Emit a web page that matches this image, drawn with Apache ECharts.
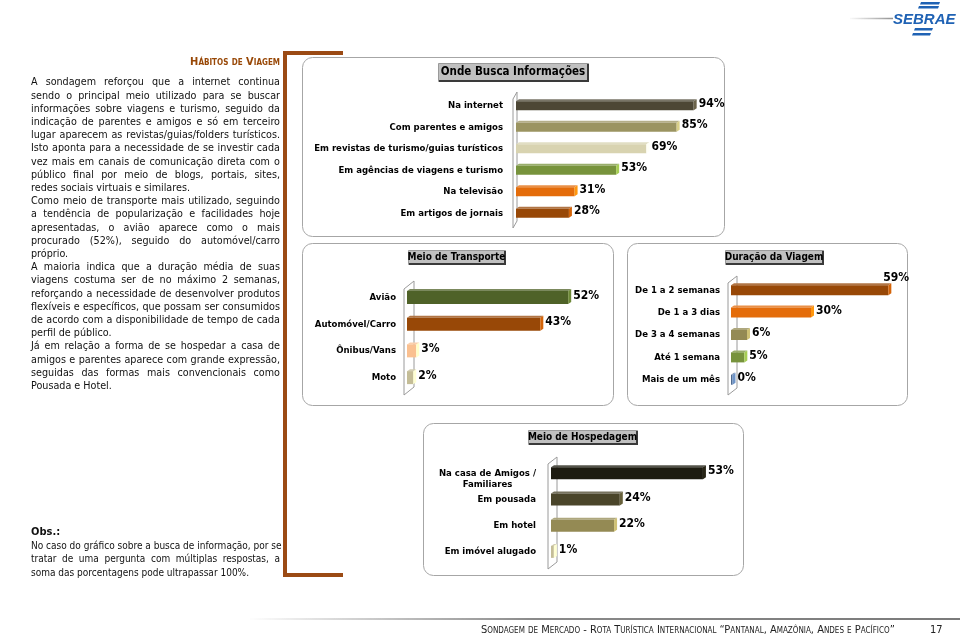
<!DOCTYPE html>
<html>
<head>
<meta charset="utf-8">
<title>Hábitos de Viagem</title>
<script src="https://cdn.jsdelivr.net/npm/echarts@6/dist/echarts.min.js"></script>
<style>
  body { margin: 0; background: #fff; }
  #page { position: relative; width: 960px; height: 639px; overflow: hidden;
          font-family: "DejaVu Sans Condensed", "DejaVu Sans", sans-serif; }
  #chart { position: absolute; left: 0; top: 0; width: 960px; height: 639px; }
  .txt { position: absolute; left: 31px; width: 249px; font-size: 10.7px; line-height: 13.2px; color: #111; }
  .txt div { white-space: nowrap; text-align: justify; text-align-last: justify; }
  .txt div.end { text-align-last: left; }
  #heading { position: absolute; left: 150px; width: 130px; top: 55px; text-align: right;
             font-size: 11px; font-weight: bold; font-variant: small-caps; color: #984807; }
  #footer { position: absolute; left: 481px; top: 623px; font-size: 11px; line-height: 14px;
            font-variant: small-caps; color: #222; white-space: nowrap; }
  #pageno { position: absolute; left: 930px; top: 623px; font-size: 11px; line-height: 14px; color: #222; }
</style>
</head>
<body>
<div id="page">
  <div id="chart"></div>
  <div id="heading">Hábitos de Viagem</div>
  <div class="txt" style="top:75.4px">
    <div>A sondagem reforçou que a internet continua</div>
    <div>sendo o principal meio utilizado para se buscar</div>
    <div>informações sobre viagens e turismo, seguido da</div>
    <div>indicação de parentes e amigos e só em terceiro</div>
    <div>lugar aparecem as revistas/guias/folders turísticos.</div>
    <div>Isto aponta para a necessidade de se investir cada</div>
    <div>vez mais em canais de comunicação direta com o</div>
    <div>público final por meio de blogs, portais, sites,</div>
    <div class="end">redes sociais virtuais e similares.</div>
    <div>Como meio de transporte mais utilizado, seguindo</div>
    <div>a tendência de popularização e facilidades hoje</div>
    <div>apresentadas, o avião aparece como o mais</div>
    <div>procurado (52%), seguido do automóvel/carro</div>
    <div class="end">próprio.</div>
    <div>A maioria indica que a duração média de suas</div>
    <div>viagens costuma ser de no máximo 2 semanas,</div>
    <div>reforçando a necessidade de desenvolver produtos</div>
    <div>flexíveis e específicos, que possam ser consumidos</div>
    <div>de acordo com a disponibilidade de tempo de cada</div>
    <div class="end">perfil de público.</div>
    <div>Já em relação a forma de se hospedar a casa de</div>
    <div>amigos e parentes aparece com grande expressão,</div>
    <div>seguidas das formas mais convencionais como</div>
    <div class="end">Pousada e Hotel.</div>
  </div>
  <div class="txt" style="top:525px;line-height:13.6px;font-size:10px">
    <div class="end" style="font-weight:bold;font-size:11px">Obs.:</div>
    <div>No caso do gráfico sobre a busca de informação, por se</div>
    <div>tratar de uma pergunta com múltiplas respostas, a</div>
    <div class="end">soma das porcentagens pode ultrapassar 100%.</div>
  </div>
  <div id="footer">Sondagem de Mercado - Rota Turística Internacional “Pantanal, Amazônia, Andes e Pacífico”</div>
  <div id="pageno">17</div>
</div>
<script>
// values
const infoCategories = ['Na internet', 'Com parentes e amigos', 'Em revistas de turismo/guias turísticos',
  'Em agências de viagens e turismo', 'Na televisão', 'Em artigos de jornais'];
const infoValues = [94, 85, 69, 53, 31, 28];

const transportCategories = ['Avião', 'Automóvel/Carro', 'Ônibus/Vans', 'Moto'];
const transportValues = [52, 43, 3, 2];

const durationCategories = ['De 1 a 2 semanas', 'De 1 a 3 dias', 'De 3 a 4 semanas', 'Até 1 semana', 'Mais de um mês'];
const durationValues = [59, 30, 6, 5, 0];

const lodgingCategories = ['Na casa de Amigos /\nFamiliares', 'Em pousada', 'Em hotel', 'Em imóvel alugado'];
const lodgingValues = [53, 24, 22, 1];

const infoColors = ['#4d4735', '#9b9461', '#d8d3b0', '#77933c', '#e46c0a', '#984807'];
const transportColors = ['#4f6228', '#984807', '#fac090', '#c4bd97'];
const durationColors = ['#984807', '#e46c0a', '#948a54', '#77933c', '#4f6a8f'];
const lodgingColors = ['#1d1b10', '#4a452a', '#948a54', '#c4bd97'];

const FONT = '"DejaVu Sans Condensed", "DejaVu Sans", sans-serif';
const CAT_SIZE = 9.5;

const panels = [
  { title: 'Onde Busca Informações', cats: infoCategories, vals: infoValues, colors: infoColors, max: 100,
    grid: { left: 516, top: 95, width: 189, height: 129 }, barH: 9, margin: 13,
    box: [302, 57, 422, 179], titleBox: [438, 63, 150, 18], titleSize: 11.5, wall: { dx: 4, dy: 7 } },
  { title: 'Meio de Transporte', cats: transportCategories, vals: transportValues, colors: transportColors, max: 60,
    grid: { left: 407, top: 284, width: 186, height: 107 }, barH: 13, margin: 11,
    box: [302, 243, 311, 162], titleBox: [408, 250, 97, 14], titleSize: 10, wall: { dx: 10, dy: 8 } },
  { title: 'Duração da Viagem', cats: durationCategories, vals: durationValues, colors: durationColors, max: 60,
    grid: { left: 731, top: 279, width: 160, height: 112 }, barH: 10, margin: 11, labelMaxX: 907,
    box: [627, 243, 280, 162], titleBox: [725, 250, 98, 14], titleSize: 10, wall: { dx: 9, dy: 7 } },
  { title: 'Meio de Hospedagem', cats: lodgingCategories, vals: lodgingValues, colors: lodgingColors, max: 60,
    grid: { left: 551, top: 460, width: 172, height: 105 }, barH: 12, margin: 15,
    box: [423, 423, 320, 152], titleBox: [528, 430, 109, 14], titleSize: 10, wall: { dx: 9, dy: 7 } }
];

const measure = document.createElement('canvas').getContext('2d');
function textWidth(str, font) {
  measure.font = font;
  return measure.measureText(str).width;
}

function bar3d(p) {
  return function (params, api) {
    const v = api.value(0);
    const start = api.coord([0, api.value(1)]);
    const end = api.coord([v, api.value(1)]);
    const h = p.barH, d = 3, dy = 2;
    const x0 = start[0], yc = start[1];
    const x1 = Math.max(end[0], x0 + 1.5);
    const top = yc - h / 2, bot = yc + h / 2;
    const c = p.colors[params.dataIndex];
    const label = v + '%';
    const lw = textWidth(label, 'bold 12px ' + FONT);
    let lx = x1 + d + 2, ly = yc - 2;
    if (p.labelMaxX && lx + lw > p.labelMaxX) {
      lx = x1 - 5;
      ly = top - 7;
    }
    return {
      type: 'group',
      children: [
        { type: 'polygon', shape: { points: [[x0, top], [x0 + d, top - dy], [x1 + d, top - dy], [x1, top]] },
          style: { fill: echarts.color.lift(c, 0.25) } },
        { type: 'rect', shape: { x: x0, y: top, width: x1 - x0, height: h }, style: { fill: c } },
        { type: 'polygon', shape: { points: [[x1, top], [x1 + d, top - dy], [x1 + d, bot - dy], [x1, bot]] },
          style: { fill: echarts.color.lift(c, -0.4) } },
        { type: 'text', style: { text: label, x: lx, y: ly, fontSize: 12, fontWeight: 'bold', fontFamily: FONT,
          fill: '#000', align: 'left', verticalAlign: 'middle' } }
      ]
    };
  };
}

const labelFont = 'bold ' + CAT_SIZE + 'px ' + FONT;

function catFormatter(value) {
  if (value.indexOf('\n') < 0) return value;
  const lines = value.split('\n');
  return '{s| }\n' + lines.map(l => '{c|' + l + '}').join('\n');
}

const graphics = [];

// brown bracket
graphics.push({ type: 'polyline', shape: { points: [[343, 53], [285, 53], [285, 575], [343, 575]] },
  style: { stroke: '#9b4a14', lineWidth: 4, fill: null } });

panels.forEach(p => {
  const [bx, by, bw, bh] = p.box;
  graphics.push({ type: 'rect', shape: { x: bx + 0.5, y: by + 0.5, width: bw, height: bh, r: 10 },
    style: { fill: null, stroke: '#a6a6a6', lineWidth: 1 } });
  const [tx, ty, tw, th] = p.titleBox;
  graphics.push({ type: 'rect', shape: { x: tx + 0.5, y: ty + 0.5, width: tw, height: th },
    style: { fill: '#c0c0c0', stroke: '#9a9a9a', lineWidth: 1 } });
  graphics.push({ type: 'polyline', shape: { points: [[tx + tw, ty + 1], [tx + tw, ty + th], [tx + 1, ty + th]] },
    style: { stroke: '#3a3a3a', lineWidth: 2, fill: null } });
  graphics.push({ type: 'text', style: { text: p.title, x: tx + tw / 2, y: ty + th / 2 + 0.5,
    align: 'center', verticalAlign: 'middle', fontFamily: FONT, fontWeight: 'bold', fontSize: p.titleSize, fill: '#000' } });
  // 3D back wall beside the category axis
  const g = p.grid, w = p.wall;
  const L = g.left - 3, yT = g.top - 3, yB = g.top + g.height + 4;
  graphics.push({ type: 'polygon', z: -1, shape: { points: [[L, yT + w.dy], [L + w.dx, yT], [L + w.dx, yB - w.dy], [L, yB]] },
    style: { fill: '#fff', stroke: '#9a9a9a', lineWidth: 1 } });
});

// footer rule and header rule
graphics.push({ type: 'line', shape: { x1: 250, y1: 619, x2: 960, y2: 619 },
  style: { lineWidth: 2, stroke: new echarts.graphic.LinearGradient(0, 0, 1, 0,
    [{ offset: 0, color: 'rgba(128,128,128,0)' }, { offset: 0.4, color: '#8a8a8a' }, { offset: 1, color: '#7a7a7a' }]) } });
graphics.push({ type: 'line', shape: { x1: 850, y1: 18.5, x2: 893, y2: 18.5 },
  style: { lineWidth: 1.5, stroke: new echarts.graphic.LinearGradient(0, 0, 1, 0,
    [{ offset: 0, color: 'rgba(140,140,140,0)' }, { offset: 1, color: '#8c8c8c' }]) } });

// SEBRAE mark
[[920, 2, 19], [918, 6, 20], [914, 28, 18], [912, 33, 18]].forEach(s => {
  graphics.push({ type: 'polygon', shape: { points: [[s[0] + 1, s[1]], [s[0] + s[2] + 1, s[1]], [s[0] + s[2], s[1] + 2.5], [s[0], s[1] + 2.5]] },
    style: { fill: '#1f62b4' } });
});
graphics.push({ type: 'text', style: { text: 'SEBRAE', x: 893, y: 19.5, verticalAlign: 'middle', align: 'left',
  fontFamily: '"Liberation Sans", Arial, sans-serif', fontStyle: 'italic', fontWeight: 'bold', fontSize: 15, fill: '#1f62b4' } });

const twoLineW = textWidth('Na casa de Amigos /', labelFont);

const chart = echarts.init(document.getElementById('chart'));
chart.setOption({
  animation: false,
  grid: panels.map(p => Object.assign({ outerBoundsMode: 'none' }, p.grid)),
  xAxis: panels.map((p, i) => ({ type: 'value', gridIndex: i, min: 0, max: p.max, show: false })),
  yAxis: panels.map((p, i) => ({
    type: 'category', gridIndex: i, inverse: true, data: p.cats,
    axisLine: { show: false }, axisTick: { show: false }, splitLine: { show: false },
    axisLabel: {
      margin: p.margin, fontFamily: FONT, fontWeight: 'bold', fontSize: CAT_SIZE, color: '#000',
      formatter: catFormatter,
      rich: {
        s: { lineHeight: 11, fontSize: CAT_SIZE },
        c: { width: twoLineW, align: 'center', lineHeight: 11, fontFamily: FONT, fontWeight: 'bold', fontSize: CAT_SIZE, color: '#000' }
      }
    }
  })),
  series: panels.map((p, i) => ({
    type: 'custom', xAxisIndex: i, yAxisIndex: i, clip: false,
    renderItem: bar3d(p),
    encode: { x: 0, y: 1 },
    data: p.vals.map((v, j) => [v, j])
  })),
  graphic: graphics
});
</script>
</body>
</html>
